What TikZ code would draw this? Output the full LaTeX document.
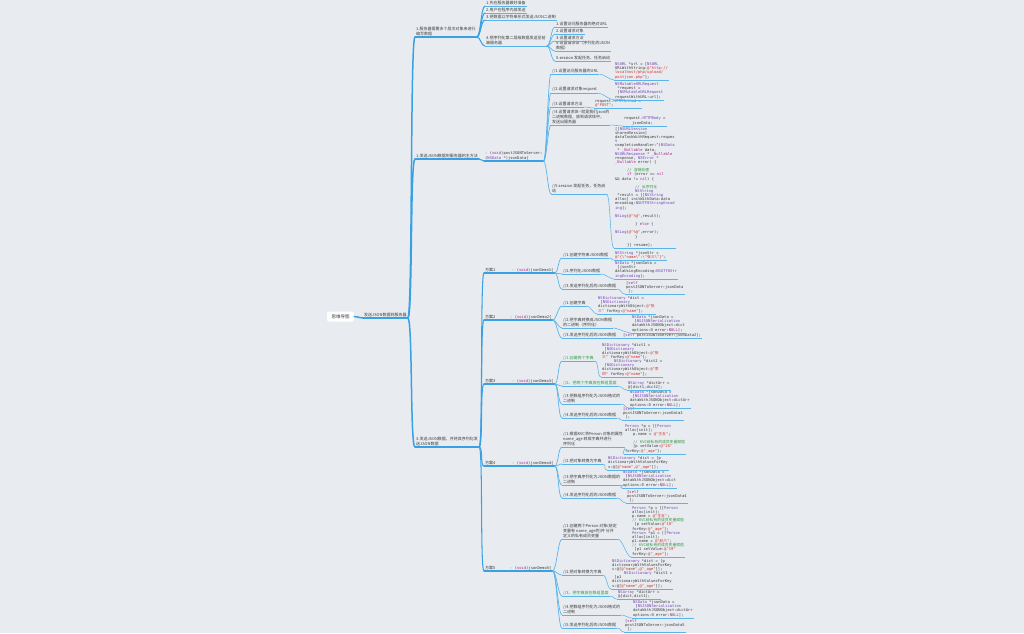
\documentclass[tikz,border=0pt]{standalone}
\usepackage{fontspec}
\setmainfont{Noto Sans CJK SC}
\newfontfamily\cjkf{Noto Sans CJK SC}
\newfontfamily\monof{DejaVu Sans Mono}
\usetikzlibrary{calc}
\definecolor{bg}{HTML}{E8ECF0}
\definecolor{ln}{HTML}{3AA0E4}
\definecolor{lnb}{HTML}{5AB4EA}
\definecolor{txt}{HTML}{3C3C3C}
\definecolor{kw}{HTML}{B0248F}
\definecolor{cls}{HTML}{7A45B8}
\definecolor{strc}{HTML}{D0342C}
\definecolor{cmt}{HTML}{3A9A4A}
\definecolor{gtxt}{HTML}{2E9E45}
\newcommand\ckw[1]{\textcolor{kw}{#1}}
\newcommand\ccls[1]{\textcolor{cls}{#1}}
\newcommand\cstr[1]{\textcolor{strc}{#1}}
\newcommand\ccmt[1]{\textcolor{cmt}{#1}}
\newcommand\cj[1]{{\cjkf #1}}
\newcommand\lf{\fontsize{4}{4.9}\selectfont}
\newcommand\cf{\monof\fontsize{3.8}{4.15}\selectfont}
\tikzset{
  lab/.style={anchor=south west, inner xsep=1pt, inner ysep=0.9pt, font=\lf, text=txt, align=left},
  code/.style={anchor=south west, inner xsep=1pt, inner ysep=0.9pt, font=\cf, text=txt, align=left},
  grn/.style={text=gtxt},
  bc/.style={to path={.. controls ($(\tikztostart)+(#1,0)$) and ($(\tikztotarget)+(-#1,0)$) .. (\tikztotarget)}},
  bc/.default=5,
  w1/.style={draw=ln, line width=1.5pt, line cap=round},
  w2/.style={draw=ln, line width=1.05pt, line cap=round},
  w3/.style={draw=lnb, line width=0.7pt},
  w4/.style={draw=lnb, line width=0.55pt},
  rootbox/.style={fill=white, rounded corners=2pt, minimum width=27pt, minimum height=10pt, inner sep=1pt, font=\fontsize{4.5}{5}\selectfont, text=txt}
}
\begin{document}
\begin{tikzpicture}[x=1pt,y=-1pt]
\path[fill=bg] (0,0) rectangle (1024,633);
\useasboundingbox (0,0) rectangle (1024,633);

% ---------- root and first level
\node[rootbox] (root) at (340.5,316.5) {思维导图};
\node[lab] (l1) at (363,318) {发送JSON数据到服务器};
\node[lab] (A) at (415,37) {1.服务器需要多个层次对象来进行\\编写数据};
\node[lab] (B) at (415,159) {1.发送JSON数据到服务器的主方法};
\node[lab] (C) at (415,447) {3.发送JSON数据，并将其序列化发\\送JSON数据};

% ---------- subtree A
\node[lab] (a1) at (485,6) {1.先在服务器做好准备};
\node[lab] (a2) at (485,13) {2.用户在程序内部发送};
\node[lab] (a3) at (485,20) {3.把数据以字符串形式发送JSON二进制};
\node[lab] (a4) at (485,46) {4.把序列化第二层级数据发送至前\\端服务器};
\node[lab] (a41) at (555,27) {1.设置访问服务器的绝对URL};
\node[lab] (a42) at (555,34) {2.设置请求对象};
\node[lab] (a43) at (555,41) {3.设置请求方法};
\node[lab] (a44) at (555,51) {4.设置请求体（序列化的JSON\\数据）};
\node[lab] (a45) at (555,61) {5.session 发起任务、任务启动};

% ---------- subtree B
\node[code] (Bm) at (484,161) {- (\ckw{void})postJSONToServer:\\(\ccls{NSData} *)jsonData\{};
\node[lab] (b1) at (551,74) {//1.设置访问服务器的URL};
\node[lab] (b2) at (551,93) {//2.设置请求对象request};
\node[lab] (b3) at (551,107) {//3.设置请求方法};
\node[lab] (b4) at (551,125) {//4.设置请求体-{}-就是我们json的\\二进制数据，放到请求体中，\\发送出服务器};
\node[lab] (b5) at (551,194) {//5.session 发起任务，任务启\\动};
\node[code] (b1c) at (614,80) {\ccls{NSURL} *url = [\ccls{NSURL}\\
URLWithString:\cstr{@"http://}\\
\cstr{localhost/php/upload/}\\
\cstr{postjson.php"}];};
\node[code] (b2c) at (614,100) {\ccls{NSMutableURLRequest}\\{}
*request =\\{}
[\ccls{NSMutableURLRequest}\\
requestWithURL:url];};
\node[code] (b3c) at (594,108) {request.\ccls{HTTPMethod} =\\
\cstr{@"POST"};};
\node[code] (b4c) at (623,126) {request.\ccls{HTTPBody} =\\
\hspace*{8pt}jsonData;};
\node[code] (b5c) at (614,248) {[[\ccls{NSURLSession}\\
sharedSession]\\
dataTaskWithRequest:reques\\
t\\
completionHandler:\textasciicircum(\ccls{NSData}\\{}
* \ckw{\_Nullable} data,\\
\ccls{NSURLResponse} * \ckw{\_Nullable}\\
response, \ccls{NSError} *\\
\ckw{\_Nullable} error) \{\\[4.1pt]
\hspace*{12pt}\ccmt{// \cj{容错处理}}\\
\hspace*{12pt}\ckw{if} (error == \ckw{nil}\\
\&\& data != \ckw{nil}) \{\\[4.1pt]
\hspace*{20pt}\ccmt{// \cj{反序列化}}\\
\hspace*{20pt}\ccls{NSString}\\{}
*result = [[\ccls{NSString}\\
alloc] initWithData:data\\
encoding:\ccls{NSUTF8StringEncod}\\
\ccls{ing}];\\[4.1pt]
\ccls{NSLog}(\cstr{@"\%@"},result);\\[4.1pt]
\hspace*{20pt}\} \ckw{else} \{\\[4.1pt]
\ccls{NSLog}(\cstr{@"\%@"},error);\\
\hspace*{20pt}\}\\[4.1pt]
\hspace*{12pt}\}] resume];};

% ---------- subtree C : schemes
\node[lab] (s1) at (484,273) {方案1};
\node[lab] (s2) at (484,320) {方案2};
\node[lab] (s3) at (484,384) {方案3};
\node[lab] (s4) at (484,466) {方案4};
\node[lab] (s5) at (484,571) {方案5};
\node[code] (m1) at (511,273) {- (\ckw{void})jsonDemo1\{};
\node[code] (m2) at (509,320) {- (\ckw{void})jsonDemo2\{};
\node[code] (m3) at (511,384) {- (\ckw{void})jsonDemo3\{};
\node[code] (m4) at (511,466) {- (\ckw{void})jsonDemo4\{};
\node[code] (m5) at (509,571) {- (\ckw{void})jsonDemo5\{};

% scheme 1
\node[lab] (c11) at (562,258) {//1.创建字符串JSON数据};
\node[lab] (c12) at (562,274) {//2.序列化JSON数据};
\node[lab] (c13) at (562,289) {//3.发送序列化后的JSON数据};
\node[code] (c11c) at (614,260) {\ccls{NSString} *jsonStr =\\
\cstr{@"\{\textbackslash"name\textbackslash":\textbackslash"\cj{张三}\textbackslash"\}"};};
\node[code] (c12c) at (614,279) {\ccls{NSData} *jsonData =\\{}
[jsonStr\\
dataUsingEncoding:\ccls{NSUTF8Str}\\
\ccls{ingEncoding}];};
\node[code] (c13c) at (625,294) {[\ckw{self}\\
postJSONToServer:jsonData\\{}
];};

% scheme 2
\node[lab] (c21) at (562,306) {//1.创建字典};
\node[lab] (c22) at (562,328) {//2.把字典转换成JSON数据\\的二进制（序列化）};
\node[lab] (c23) at (562,338) {//3.发送序列化后的JSON数据};
\node[code] (c21c) at (597,314) {\ccls{NSDictionary} *dict =\\{}
[\ccls{NSDictionary}\\
dictionaryWithObject:\cstr{@"\cj{张}}\\
\cstr{\cj{三}"} forKey:\cstr{@"name"}];};
\node[code] (c22c) at (631,333) {\ccls{NSData} *jsonData =\\{}
[\ccls{NSJSONSerialization}\\
dataWithJSONObject:dict\\
options:0 error:\ckw{NULL}];};
\node[code] (c23c) at (622,338) {[\ckw{self} postJSONToServer:jsonData2];};

% scheme 3
\node[lab,grn] (c31) at (562,361) {//1.创建两个字典};
\node[lab,grn] (c32) at (562,386) {//2、把两个字典放在数组里面};
\node[lab] (c33) at (562,404) {//3.把数组序列化为JSON格式的\\二进制};
\node[lab] (c34) at (562,418) {//4.发送序列化后的JSON数据};
\node[code] (c31c) at (601,377) {\ccls{NSDictionary} *dict1 =\\{}
[\ccls{NSDictionary}\\
dictionaryWithObject:\cstr{@"\cj{张}}\\
\cstr{\cj{三}"} forKey:\cstr{@"name"}];\\
\hspace*{12pt}\ccls{NSDictionary} *dict2 =\\{}
[\ccls{NSDictionary}\\
dictionaryWithObject:\cstr{@"\cj{李}}\\
\cstr{\cj{四}"} forKey:\cstr{@"name"}];};
\node[code] (c32c) at (627,390) {\ccls{NSArray} *dictArr =\\
@[dict1,dict2];};
\node[code] (c33c) at (629,408) {\ccls{NSData} *jsonData =\\{}
[\ccls{NSJSONSerialization}\\
dataWithJSONObject:dictArr\\
options:0 error:\ckw{NULL}];};
\node[code] (c34c) at (622,420) {[\ckw{self}\\
postJSONToServer:jsonData3\\{}
];};

% scheme 4
\node[lab] (c41) at (562,447) {//1.根据KVC将Person 对象的属性\\name\_age 转成字典并进行\\序列化};
\node[lab] (c42) at (562,464) {//2.把对象转换为字典};
\node[lab] (c43) at (562,485) {//3.把字典序列化为JSON数据的\\二进制};
\node[lab] (c44) at (562,498) {//4.发送序列化后的JSON数据};
\node[code] (c41c) at (624,454) {\ccls{Person} *p = [[\ccls{Person}\\
alloc]init];\\
\hspace*{8pt}p.name = \cstr{@"\cj{王五}"};\\[4.1pt]
\hspace*{8pt}\ccmt{// KVC\cj{给私有的成员变量赋值}}\\
\hspace*{8pt}[p setValue:\cstr{@"18"}\\
forKey:\cstr{@"\_age"}];};
\node[code] (c42c) at (607,470) {\ccls{NSDictionary} *dict = [p\\
dictionaryWithValuesForKey\\
s:@[\cstr{@"name"},\cstr{@"\_age"}]];};
\node[code] (c43c) at (622,488) {\ccls{NSData} *jsonData =\\{}
[\ccls{NSJSONSerialization}\\
dataWithJSONObject:dict\\
options:0 error:\ckw{NULL}];};
\node[code] (c44c) at (626,503) {[\ckw{self}\\
postJSONToServer:jsonData4\\{}
];};

% scheme 5
\node[lab] (c51) at (562,539) {//1.创建两个Person 对象(给定\\变量有 name\_age的)并 分开\\定义的私有成员变量};
\node[lab] (c52) at (562,575) {//2.把对象转换为字典};
\node[lab,grn] (c53) at (562,596) {//3、把字典放在数组里面};
\node[lab] (c54) at (562,615) {//4.把数组序列化为JSON格式的\\二进制};
\node[lab] (c55) at (562,628) {//5.发送序列化后的JSON数据};
\node[code] (c51c) at (631,557) {\ccls{Person} *p = [[\ccls{Person}\\
alloc]init];\\
p.name = \cstr{@"\cj{王五}"};\\
\ccmt{// KVC\cj{给私有的成员变量赋值}}\\{}
[p setValue:\cstr{@"18"}\\
forKey:\cstr{@"\_age"}];\\
\ccls{Person} *p1 = [[\ccls{Person}\\
alloc]init];\\
p1.name = \cstr{@"\cj{赵六}"};\\
\ccmt{// KVC\cj{给私有的成员变量赋值}}\\{}
[p1 setValue:\cstr{@"19"}\\
forKey:\cstr{@"\_age"}];};
\node[code] (c52c) at (611,589) {\ccls{NSDictionary} *dict = [p\\
dictionaryWithValuesForKey\\
s:@[\cstr{@"name"},\cstr{@"\_age"}]];\\
\hspace*{12pt}\ccls{NSDictionary} *dict1 =\\{}
[p1\\
dictionaryWithValuesForKey\\
s:@[\cstr{@"name"},\cstr{@"\_age"}]];};
\node[code] (c53c) at (617,599) {\ccls{NSArray} *dictArr =\\
@[dict,dict1];};
\node[code] (c54c) at (632,618) {\ccls{NSData} *jsonData =\\{}
[\ccls{NSJSONSerialization}\\
dataWithJSONObject:dictArr\\
options:0 error:\ckw{NULL}];};
\node[code] (c55c) at (624,632) {[\ckw{self}\\
postJSONToServer:jsonData5\\{}
];};

% ---------- underlines
\path[w1] (l1.south west) -- (l1.south east);
\foreach \n in {A,B,C,s1,s2,s3,s4,s5,Bm,m1,m2,m3,m4,m5}
  \path[w2] (\n.south west) -- (\n.south east);
\foreach \n in {a1,a2,a3,a4,a41,a42,a43,a44,a45,b1,b2,b3,b4,b5,
  c11,c12,c13,c21,c22,c23,c31,c32,c33,c34,c41,c42,c43,c44,c51,c52,c53,c54,c55}
  \path[w3] (\n.south west) -- (\n.south east);
\foreach \n in {b1c,b2c,b3c,b4c,b5c,c11c,c12c,c13c,c21c,c22c,c23c,c31c,c32c,c33c,c34c,
  c41c,c42c,c43c,c44c,c51c,c52c,c53c,c54c,c55c}
  \path[w4] (\n.south west) -- (\n.south east);

% ---------- connectors
\draw[w1] (root.east) to[bc=3] (l1.south west);
\foreach \c in {A,B,C} \draw[w1] (l1.south east) to[bc=5] (\c.south west);
\foreach \c in {a1,a2,a3,a4} \draw[w2] (A.south east) to[bc=4] (\c.south west);
\foreach \c in {a41,a42,a43,a44,a45} \draw[w3] (a4.south east) to[bc=4] (\c.south west);
\draw[w2] (B.south east) to[bc=3] (Bm.south west);
\foreach \c in {b1,b2,b3,b4,b5} \draw[w3] (Bm.south east) to[bc=3] (\c.south west);
\foreach \c in {b1,b2,b3,b4,b5} \draw[w4] (\c.south east) to[bc=4] (\c c.south west);
\foreach \c in {s1,s2,s3,s4,s5} \draw[w2] (C.south east) to[bc=4] (\c.south west);
\foreach \i in {1,2,3,4,5} \draw[w2] (s\i.south east) -- (m\i.south west);
\foreach \c in {c11,c12,c13} \draw[w3] (m1.south east) to[bc=4] (\c.south west);
\foreach \c in {c21,c22,c23} \draw[w3] (m2.south east) to[bc=4] (\c.south west);
\foreach \c in {c31,c32,c33,c34} \draw[w3] (m3.south east) to[bc=4] (\c.south west);
\foreach \c in {c41,c42,c43,c44} \draw[w3] (m4.south east) to[bc=4] (\c.south west);
\foreach \c in {c51,c52,c53,c54,c55} \draw[w3] (m5.south east) to[bc=4] (\c.south west);
\foreach \c in {c11,c12,c13,c21,c22,c23,c31,c32,c33,c34,c41,c42,c43,c44,c51,c52,c53,c54,c55}
  \draw[w4] (\c.south east) to[bc=4] (\c c.south west);
\end{tikzpicture}
\end{document}
